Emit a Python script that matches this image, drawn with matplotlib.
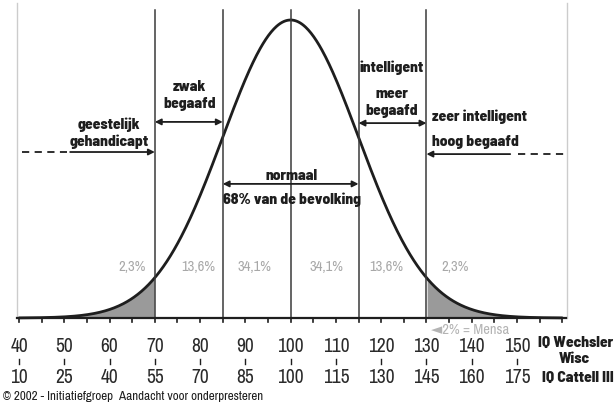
import numpy as np
import matplotlib
matplotlib.use("Agg")
import matplotlib.pyplot as plt

# verdeling
mean = 100
sd = 15
grenzen = [70, 85, 100, 115, 130]
percentages = ["2,3%", "13,6%", "34,1%", "34,1%", "13,6%", "2,3%"]
perc_x = [65.0, 79.5, 92.1, 107.8, 121.1, 136.3]
wechsler = [40, 50, 60, 70, 80, 90, 100, 110, 120, 130, 140, 150]
cattell = [10, 25, 40, 55, 70, 85, 100, 115, 130, 145, 160, 175]

NARROW = ['Archivo Narrow', 'Liberation Sans Narrow', 'DejaVu Sans']
BOLD = ['Barlow Semi Condensed', 'Asap Condensed', 'DejaVu Sans']
INK = '#1e1e1e'
FS = 11.2
WT = 800

fig = plt.figure(figsize=(6.14, 4.04), dpi=100)
ax = fig.add_axes([0, 0, 1, 1])
ax.set_xlim(35.80, 171.43)
ax.set_ylim(-0.2886, 1.0671)
ax.axis('off')

x = np.linspace(40, 160, 600)
y = np.exp(-0.5 * ((x - mean) / sd) ** 2)

# staarten gearceerd
ax.fill_between(x, 0, y, where=x <= 70, color='#9a9a9a', lw=0)
ax.fill_between(x, 0, y, where=x >= 130, color='#9a9a9a', lw=0)
ax.plot(x, y, color=INK, lw=2, solid_capstyle='round')

# kader en verticale lijnen
for bx in (39.6, 161.1):
    ax.plot([bx, bx], [0, 1.057], color='#cccccc', lw=1)
for g in grenzen:
    ax.plot([g, g], [0, 1.034], color='#3a3a3a', lw=1.1)

# as
ax.plot([39.6, 160.8], [0, 0], color=INK, lw=1.6)
for t in range(40, 161, 5):
    ax.plot([t, t], [0, -0.014], color=INK, lw=1.2)
for t in wechsler:
    ax.plot([t, t], [-0.138, -0.155], color=INK, lw=1)

for w, c in zip(wechsler, cattell):
    ax.text(w, -0.097, str(w), ha='center', va='center', fontsize=14,
            family=NARROW, color='#2a2a2a')
    ax.text(w, -0.198, str(c), ha='center', va='center', fontsize=14,
            family=NARROW, color='#2a2a2a')

ax.text(171.3, -0.083, "IQ Wechsler", ha='right', va='center', fontsize=FS,
        family=BOLD, weight=WT, color=INK)
ax.text(162.6, -0.138, "Wisc", ha='center', va='center', fontsize=FS,
        family=BOLD, weight=WT, color=INK)
ax.text(171.3, -0.200, "IQ Cattell III", ha='right', va='center', fontsize=FS,
        family=BOLD, weight=WT, color=INK)
ax.text(36.4, -0.262, "© 2002 - Initiatiefgroep  Aandacht voor onderpresteren",
        ha='left', va='center', fontsize=9.4, family=NARROW, color=INK)

# percentages
for px_, p in zip(perc_x, percentages):
    ax.text(px_, 0.171, p, ha='center', va='center', fontsize=10.5,
            family=NARROW, color='#a8a8a8')
ax.text(131.0, -0.040, "◄2% = Mensa", ha='left', va='center', fontsize=10.5,
        family=NARROW, color='#b4b4b4')

lab = dict(ha='center', va='center', fontsize=FS, family=BOLD,
           weight=WT, color=INK, linespacing=1.25)
arr2 = dict(arrowstyle='<|-|>', color=INK, lw=1.3, mutation_scale=9,
            shrinkA=0, shrinkB=0)
arr1 = dict(arrowstyle='-|>', color=INK, lw=1.3, mutation_scale=9,
            shrinkA=0, shrinkB=0)

# geestelijk gehandicapt
ax.text(59.9, 0.620, "geestelijk\ngehandicapt", **lab)
ax.plot([40.7, 50.5], [0.557, 0.557], color=INK, lw=1.3, ls=(0, (4, 3)))
ax.annotate("", xy=(70, 0.557), xytext=(51.3, 0.557), arrowprops=arr1)

# zwak begaafd
ax.text(77.6, 0.747, "zwak\nbegaafd", **lab)
ax.annotate("", xy=(85, 0.658), xytext=(70, 0.658), arrowprops=arr2)

# normaal
ax.text(100.2, 0.477, "normaal", **lab)
ax.annotate("", xy=(115, 0.450), xytext=(85, 0.450), arrowprops=arr2)
ax.text(100.2, 0.396, "68% van de bevolking", **lab)

# intelligent / meer begaafd
ax.text(122.4, 0.839, "intelligent", **lab)
ax.text(122.4, 0.724, "meer\nbegaafd", **lab)
ax.annotate("", xy=(130, 0.654), xytext=(115, 0.654), arrowprops=arr2)

# zeer intelligent / hoog begaafd
ax.text(131.2, 0.674, "zeer intelligent", ha='left', va='center', fontsize=FS,
        family=BOLD, weight=WT, color=INK)
ax.text(131.2, 0.591, "hoog begaafd", ha='left', va='center', fontsize=FS,
        family=BOLD, weight=WT, color=INK)
ax.annotate("", xy=(130, 0.550), xytext=(148.5, 0.550), arrowprops=arr1)
ax.plot([150.2, 160.8], [0.550, 0.550], color=INK, lw=1.3, ls=(0, (4, 3)))

fig.savefig("out.png", dpi=100, facecolor='white')
